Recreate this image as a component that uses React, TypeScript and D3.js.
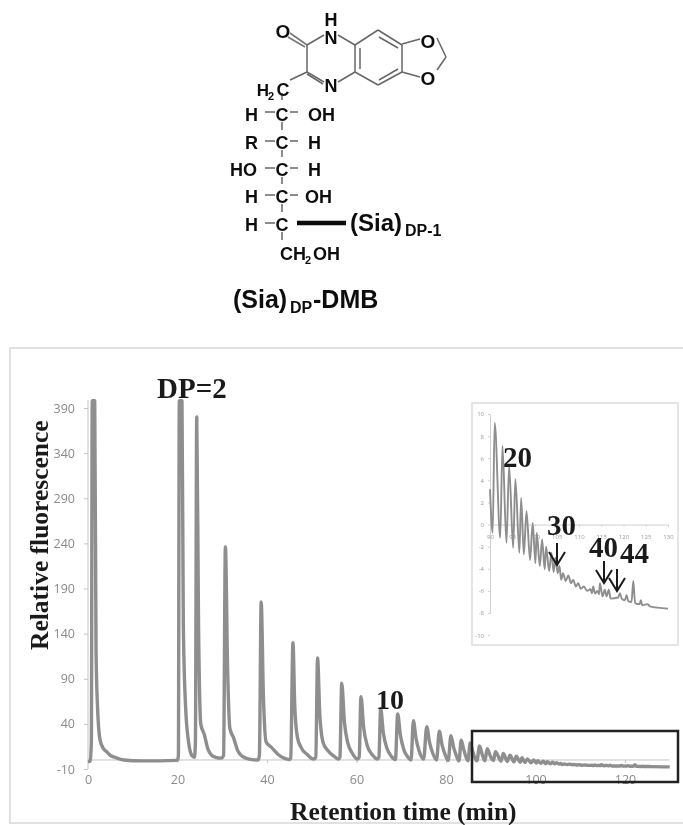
import React, { useEffect, useRef } from "react";
import * as d3 from "d3";

type Pt = [number, number];

const xTicks = [0, 20, 40, 60, 80, 100, 120];
const yTicks = [-10, 40, 90, 140, 190, 240, 290, 340, 390];
const insetXTicks = [90, 95, 100, 105, 110, 115, 120, 125, 130];
const insetYTicks = [10, 8, 6, 4, 2, 0, -2, -4, -6, -8, -10];

const earlyTrace: Pt[] = [
  [0, -2], [0.5, -1], [0.75, 20], [0.95, 398], [1.5, 398], [1.8, 120], [2.1, 62], [2.7, 22], [3.4, 13], [4.2, 9],
  [5, 5], [6, 3], [8, 0], [12, -1], [16, -1], [19.5, -0.5], [20, 0], [20.2, 5], [20.4, 398], [21, 398],
  [21.3, 150], [21.8, 60], [22.5, 19], [23.2, 5], [23.8, 3], [24, 20], [24.3, 380], [24.7, 150], [25.2, 40],
  [26, 28], [26.8, 12], [27.5, 6], [28.5, 3], [29.8, 2], [30.3, 5], [30.7, 236], [31.2, 100], [31.7, 35], [32.5, 25],
  [33.5, 10], [34.5, 4], [36, 1], [38, 0], [38.3, 5], [38.7, 175], [39.2, 70], [39.8, 20], [41, 14], [42.5, 6],
  [43.8, 2], [45, 0.5], [45.3, 2], [45.8, 130], [46.2, 60], [46.8, 25], [47.6, 14], [49, 6], [50.4, 1], [50.9, 3],
  [51.3, 113], [51.8, 50], [52.5, 20], [53.5, 11], [55, 4], [56, 1], [56.3, 3], [56.7, 85], [57.3, 42], [58, 20],
  [59, 8], [60.2, 1], [60.6, 3], [61, 70], [61.6, 36], [62.4, 16], [63.5, 6], [64.7, 1], [65, 3], [65.4, 57],
  [66, 30], [66.8, 13], [67.8, 4], [68.7, 0.5], [69.2, 51], [69.8, 28], [70.6, 11], [71.5, 3], [72.2, 0], [72.7, 43.5],
  [73.3, 24], [74, 10], [75, 1], [75.7, 37], [76.3, 20], [77, 8], [77.9, 0], [78.5, 32], [79.1, 17], [79.8, 6],
  [80.5, -0.5], [81.1, 27], [81.7, 14], [82.3, 5], [82.9, -1], [83.4, 22], [84, 11], [84.9, -1], [85.4, 19], [86, 9],
  [86.9, -1], [87.5, 15.5], [88.1, 6], [88.7, -1], [89.2, 12.5],
];

const insetTrace: Pt[] = [
  [90, 3.2], [90.6, -0.75], [91.05, 9.2], [92.3, -1.2], [92.8, 7.1], [93.7, -1.65], [94.3, 5.3], [95.2, -2.1], [95.7, 4.1], [96.6, -2.55],
  [97, 2.4], [97.6, -2.7], [98.2, 1.2], [99, -3.2], [99.6, 0.15], [100.2, -3.5], [100.5, -0.75], [101.2, -3.75], [101.7, -1.35], [102.3, -4.05],
  [102.6, -2], [103.3, -4.2], [103.8, -2.55], [104.3, -4.3], [104.7, -3], [105.2, -4.4], [105.6, -3.75], [106, -5], [106.4, -4.4], [107, -5.1],
  [107.6, -4.6], [108.2, -5.3], [108.7, -5], [109.3, -5.6], [109.8, -5.3], [110.4, -5.8], [111.1, -5.6], [111.8, -6], [112.6, -5.85], [112.9, -6.2],
  [113.2, -5.6], [113.6, -6.25], [114.1, -6], [114.5, -6.3], [114.7, -5.3], [115.3, -6.5], [115.8, -5.9], [116.2, -6.5], [116.7, -5.9], [117.1, -6.7],
  [118.8, -6.6], [119.2, -6.2], [119.6, -6.7], [120.3, -6.85], [120.7, -6.4], [121.1, -6.95], [121.8, -7], [122.2, -5.1], [122.6, -7.1], [123.6, -7.2],
  [123.9, -6.85], [124.2, -7.3], [125.5, -7.2], [125.9, -7.4], [130, -7.6],
];

const TRACE_GREY = "#8e8e8e";

export default function App() {
  const ref = useRef<SVGSVGElement>(null);

  useEffect(() => {
    const svg = d3.select(ref.current);
    svg.selectAll("*").remove();

    const defs = svg.append("defs");
    defs.append("filter").attr("id", "soft").append("feGaussianBlur").attr("stdDeviation", 0.5);

    // ---- molecule
    const mol = svg.append("g").attr("filter", "url(#soft)");
    const bonds: [number, number, number, number, number?, string?][] = [
      [290, 33, 307, 45, 1.6, "#777"], [288, 37, 305, 47, 1.6, "#777"],
      [307, 45, 324, 35], [307, 45, 307, 72], [307, 72, 324, 82], [307, 74, 323, 84],
      [338, 35, 355, 45], [338, 82, 355, 72], [355, 45, 355, 72], [360, 48, 360, 69],
      [355, 72, 378, 85], [378, 85, 402, 72], [379, 80, 398, 69], [402, 72, 402, 45],
      [402, 45, 378, 30], [398, 48, 379, 37], [378, 30, 355, 45],
      [402, 44, 420, 39], [402, 72, 420, 77], [437, 38, 446, 57], [446, 57, 437, 70],
      [307, 72, 290, 80],
      [282, 93, 282, 100], [282, 122, 282, 130], [282, 150, 282, 157], [282, 177, 282, 184], [282, 204, 282, 212], [282, 232, 282, 240],
      [265, 112, 275, 112], [290, 112, 298, 112], [265, 141, 275, 141], [290, 141, 298, 141],
      [265, 168, 275, 168], [290, 168, 298, 168], [265, 195, 275, 195], [290, 195, 298, 195], [265, 223, 275, 223],
    ];
    mol.selectAll("line").data(bonds).join("line")
      .attr("x1", (d) => d[0]).attr("y1", (d) => d[1]).attr("x2", (d) => d[2]).attr("y2", (d) => d[3])
      .attr("stroke", (d) => d[5] || "#666").attr("stroke-width", (d) => d[4] || 1.5);
    mol.append("line").attr("x1", 297).attr("y1", 223).attr("x2", 346).attr("y2", 223).attr("stroke", "#111").attr("stroke-width", 4.5);

    const atom = (t: string, x: number, y: number, size = 18, anchor = "middle") =>
      mol.append("text").attr("x", x).attr("y", y).attr("text-anchor", anchor)
        .attr("font-family", "Liberation Sans").attr("font-weight", 700).attr("font-size", size).attr("fill", "#111").text(t);

    atom("O", 283, 38, 19);
    atom("H", 331, 26);
    atom("N", 331, 44);
    atom("N", 331, 92);
    atom("O", 428, 48, 19);
    atom("O", 428, 85, 19);
    atom("H", 263, 96, 17);
    atom("2", 271, 100, 11);
    atom("C", 283, 96);
    [
      ["H", "OH", 121, 245, 308],
      ["R", "H", 149, 245, 308],
      ["HO", "H", 176, 230, 308],
      ["H", "OH", 203, 245, 305],
      ["H", "", 231, 245, 0],
    ].forEach(([l, r, y, lx, rx]) => {
      atom(l as string, lx as number, y as number, 18, "start");
      atom("C", 282, y as number);
      if (r) atom(r as string, rx as number, y as number, 18, "start");
    });
    atom("CH", 280, 260, 18, "start");
    atom("2", 305, 264, 11, "start");
    atom("OH", 313, 260, 18, "start");
    atom("(Sia)", 350, 231, 24, "start");
    atom("DP-1", 405, 236, 16, "start");
    atom("(Sia)", 233, 308, 25, "start");
    atom("DP", 290, 313, 16, "start");
    atom("-DMB", 313, 308, 25, "start");

    // ---- main chart frame
    svg.append("rect").attr("x", 10).attr("y", 348).attr("width", 690).attr("height", 475)
      .attr("fill", "none").attr("stroke", "#d8d8d8").attr("stroke-width", 1.5);

    const x = d3.scaleLinear().domain([0, 120]).range([88, 625]);
    const y = d3.scaleLinear().domain([-10, 390]).range([769, 408]);
    const line = d3.line<Pt>().x((d) => x(d[0])).y((d) => y(d[1])).curve(d3.curveMonotoneX);

    const chart = svg.append("g").attr("filter", "url(#soft)");

    const yAxis = chart.append("g").attr("transform", `translate(${x(0)},0)`)
      .call(d3.axisLeft(y).tickValues(yTicks).tickSize(4).tickPadding(9).tickFormat((d) => String(d)));
    yAxis.select(".domain").attr("stroke", "#c4c4c4").attr("d", `M0,${y(-10)}V400`);
    const xAxis = chart.append("g").attr("transform", `translate(0,${y(0)})`)
      .call(d3.axisBottom(x).tickValues(xTicks).tickSize(3).tickPadding(12));
    xAxis.select(".domain").attr("stroke", "#c4c4c4").attr("d", `M${x(0)},0H${x(130)}`);
    chart.selectAll(".tick line").attr("stroke", "#c4c4c4");
    chart.selectAll(".tick text").attr("fill", "#8a8a8a").attr("font-size", 12.5).attr("font-family", "Open Sans");

    chart.append("path").datum([...earlyTrace, ...insetTrace]).attr("d", line)
      .attr("fill", "none").attr("stroke", TRACE_GREY).attr("stroke-width", 3.4).attr("stroke-linejoin", "round");

    const serif = (t: string, tx: number, ty: number, size: number) =>
      svg.append("text").attr("x", tx).attr("y", ty).attr("font-family", "Liberation Serif").attr("font-weight", 700)
        .attr("font-size", size).attr("fill", "#1a1a1a").text(t);

    serif("DP=2", 157, 398, 29);
    serif("10", 376, 709, 28);
    serif("Retention time (min)", 290, 820, 25.5);
    serif("Relative fluorescence", 0, 0, 25.5).attr("transform", "translate(48,650) rotate(-90)");

    // ---- inset
    svg.append("rect").attr("x", 472).attr("y", 403).attr("width", 206).attr("height", 242)
      .attr("fill", "#fff").attr("stroke", "#dcdcdc").attr("stroke-width", 1.5);

    const ix = d3.scaleLinear().domain([90, 130]).range([490, 668]);
    const iy = d3.scaleLinear().domain([-8, 10]).range([613, 414]);
    const iline = d3.line<Pt>().x((d) => ix(d[0])).y((d) => iy(d[1])).curve(d3.curveMonotoneX);
    const inset = svg.append("g").attr("filter", "url(#soft)");

    const iyAxis = inset.append("g").attr("transform", `translate(${ix(90)},0)`)
      .call(d3.axisLeft(iy).tickValues(insetYTicks).tickSize(2).tickPadding(4).tickFormat((d) => String(d)));
    iyAxis.select(".domain").attr("stroke", "#d0d0d0");
    const ixAxis = inset.append("g").attr("transform", `translate(0,${iy(0)})`)
      .call(d3.axisBottom(ix).tickValues(insetXTicks).tickSize(2).tickPadding(8));
    ixAxis.select(".domain").attr("stroke", "#d0d0d0");
    inset.selectAll(".tick line").attr("stroke", "#d0d0d0");
    inset.selectAll(".tick text").attr("fill", "#999").attr("font-size", 6).attr("font-family", "Open Sans");

    inset.append("path").datum(insetTrace).attr("d", iline)
      .attr("fill", "none").attr("stroke", TRACE_GREY).attr("stroke-width", 1.9).attr("stroke-linejoin", "round");

    serif("20", 503, 467, 29);
    serif("30", 547, 535, 29);
    serif("40", 589, 557, 29);
    serif("44", 620, 563, 29);

    // arrows marking DP 30, 40 and 44
    [[557, 543, 565], [604, 561, 583], [617, 569, 591]].forEach(([ax, y0, y1]) => {
      svg.append("path").attr("d", `M${ax},${y0}V${y1}M${ax - 8},${y1 - 13}L${ax},${y1}L${ax + 8},${y1 - 13}`)
        .attr("fill", "none").attr("stroke", "#1a1a1a").attr("stroke-width", 2);
    });

    // zoom box over the main trace
    svg.append("rect").attr("x", 472).attr("y", 731).attr("width", 206).attr("height", 51)
      .attr("fill", "none").attr("stroke", "#222").attr("stroke-width", 2.5);
  }, []);

  return <svg ref={ref} width={683} height={825} style={{ position: "absolute", left: 0, top: 0, background: "#fff" }} />;
}
